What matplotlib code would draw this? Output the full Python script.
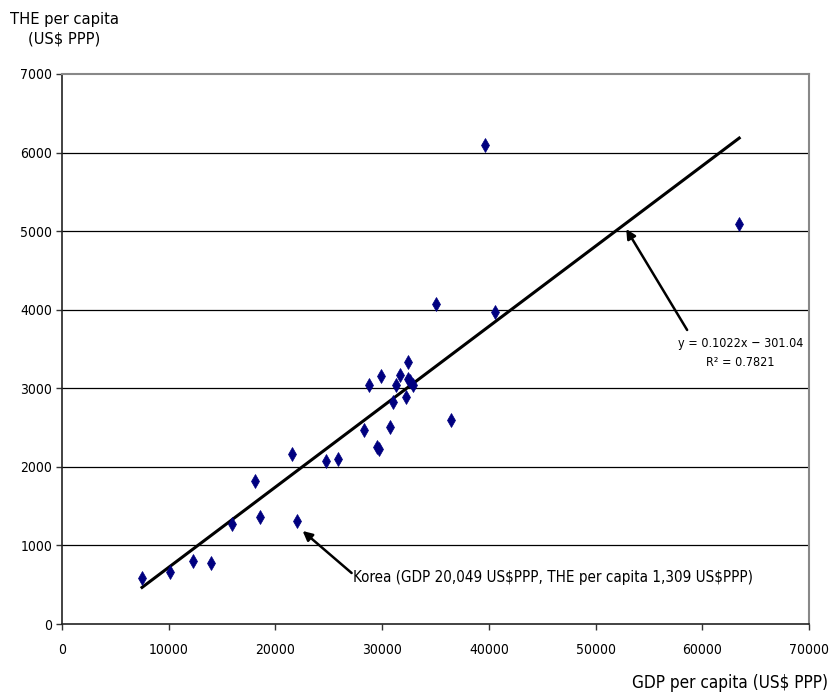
import numpy as np
import matplotlib
matplotlib.use("Agg")
import matplotlib.pyplot as plt

plt.rcParams['font.family'] = ['DejaVu Sans']
plt.rcParams['font.stretch'] = 'condensed'
plt.rcParams['text.parse_math'] = False

# ---- data (GDP per capita vs THE per capita, US$ PPP) ----
gdp = [7500, 10110, 12260, 13940, 15910, 18060, 18530, 21530, 22000, 24710,
       25830, 28260, 29480, 29670, 28730, 29850, 30730, 31050, 31320, 31720,
       32250, 32450, 32450, 32600, 32880, 36410, 35000, 40620, 39680, 63460]
the = [586, 662, 803, 777, 1274, 1822, 1363, 2166, 1312, 2076,
       2102, 2471, 2255, 2229, 3045, 3159, 2510, 2828, 3045, 3163,
       2883, 3329, 3121, 3090, 3045, 2599, 4076, 3975, 6102, 5090]

# trend line coefficients as printed on the chart
slope = 0.1022
intercept = -301.04
r2 = 0.7821

x_ticks = [0, 10000, 20000, 30000, 40000, 50000, 60000, 70000]
y_ticks = [0, 1000, 2000, 3000, 4000, 5000, 6000, 7000]

fig = plt.figure(figsize=(8.31, 6.96), dpi=100)
ax = fig.add_axes([62 / 831, 1 - 624 / 696, (809 - 62) / 831, (624 - 74) / 696])

# horizontal gridlines
for yv in y_ticks[1:-1]:
    ax.axhline(yv, color='black', lw=0.9, zorder=1)

# trend line over the data range
xs = np.array([min(gdp), max(gdp)])
ax.plot(xs, slope * xs + intercept, color='black', lw=2.2, zorder=2)

ax.plot(gdp, the, linestyle='none', marker='d', color='#000080',
        markersize=7, markeredgewidth=0.5, zorder=3)

ax.set_xlim(0, 70000)
ax.set_ylim(0, 7000)
ax.set_xticks(x_ticks)
ax.set_yticks(y_ticks)
ax.tick_params(axis='both', labelsize=10, direction='out', length=4,
               width=1, color='#333333')
ax.tick_params(axis='y', pad=3)
ax.tick_params(axis='x', pad=10)

for side in ['left', 'bottom']:
    ax.spines[side].set_color('#222222')
    ax.spines[side].set_linewidth(1.2)
for side in ['top', 'right']:
    ax.spines[side].set_color('#888888')
    ax.spines[side].set_linewidth(1.5)

arrow = dict(arrowstyle='-|>', color='black', lw=1.8, mutation_scale=14,
             shrinkA=0, shrinkB=0)

# Korea callout
ax.annotate('', xy=(22550, 1184), xytext=(27140, 649), arrowprops=arrow)
ax.text(27300, 586, 'Korea (GDP 20,049 US$PPP, THE per capita 1,309 US$PPP)',
        fontsize=10.9, ha='left', va='center')

# trend line callout
ax.annotate('', xy=(52870, 5027), xytext=(58580, 3742), arrowprops=arrow)
ax.text(63600, 3650, 'y = 0.1022x \u2212 301.04\nR\u00b2 = %.4f' % r2,
        fontsize=9, ha='center', va='top', linespacing=1.6)

fig.text(64 / 831, 1 - 29 / 696, 'THE per capita\n(US$ PPP)', fontsize=11.8,
         ha='center', va='center', linespacing=1.4)
fig.text(828 / 831, 1 - 683 / 696, 'GDP per capita (US$ PPP)', fontsize=12.3,
         ha='right', va='center')

fig.savefig('out.png', dpi=100)
